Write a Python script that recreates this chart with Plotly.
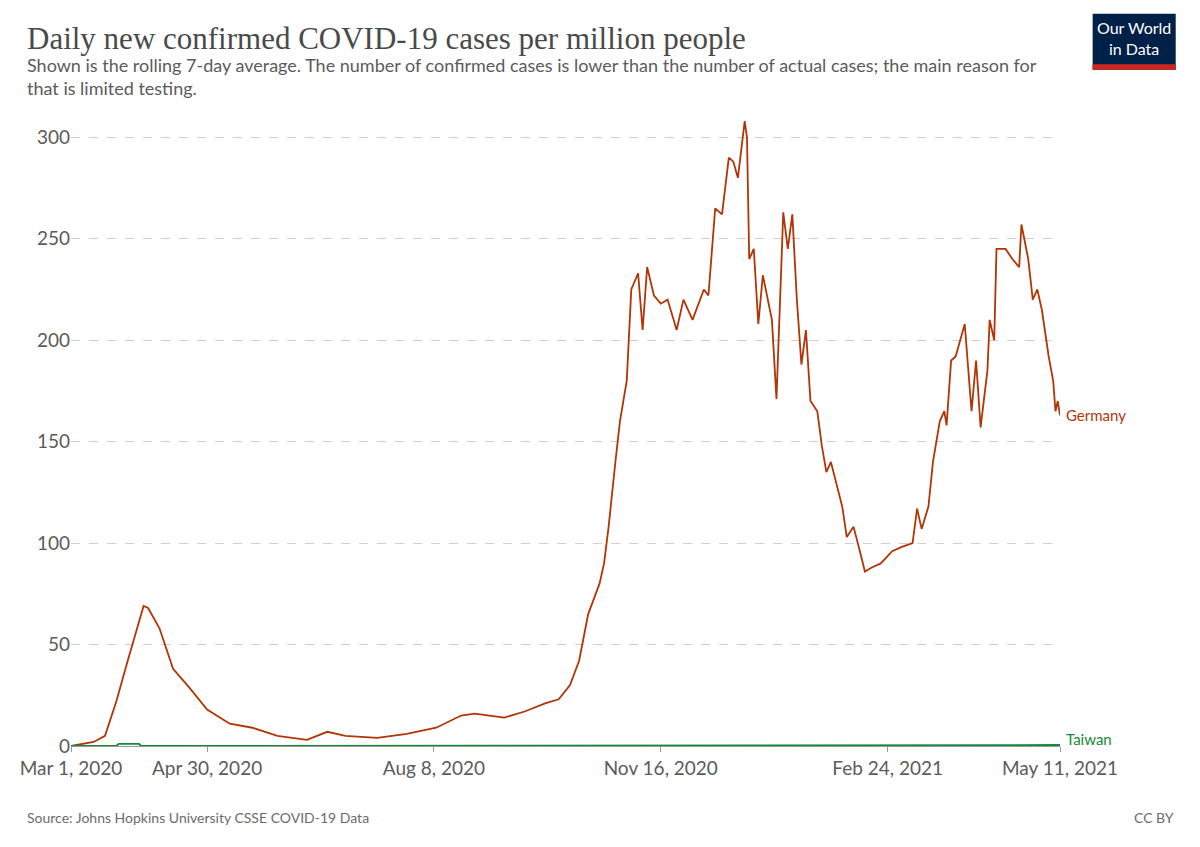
import pandas as pd
import plotly.graph_objects as go

start = pd.Timestamp("2020-03-01")

germany_day = [0, 10, 15, 20, 25, 30, 32, 34, 39, 45, 52, 60, 70, 80, 91, 104, 113, 121, 135, 148,
               161, 172, 178, 191, 200, 209, 215, 220, 224, 228, 233, 235, 237, 240, 242, 245, 246, 247,
               250, 252, 254, 257, 260, 263, 267, 270, 274, 279, 281, 284, 287, 290, 292, 294, 297, 298,
               299, 301, 303, 305, 309, 311, 314, 316, 318, 320, 322, 324, 326, 329, 331, 333, 335, 340,
               342, 345, 348, 350, 353, 357, 362, 366, 371, 373, 375, 378, 380, 383, 385, 386, 388, 390,
               394, 397, 399, 401, 404, 405, 407, 408, 412, 415, 418, 419, 422, 424, 426, 428, 431, 433,
               434, 435, 436]
germany_val = [0, 2, 5, 22, 42, 62, 69, 68, 58, 38, 29, 18, 11, 9, 5, 3, 7, 5, 4, 6,
               9, 15, 16, 14, 17, 21, 23, 30, 42, 65, 80, 90, 108, 140, 160, 180, 200, 225,
               233, 205, 236, 222, 218, 220, 205, 220, 210, 225, 222, 265, 262, 290, 288, 280, 308, 300,
               240, 245, 208, 232, 210, 171, 263, 245, 262, 220, 188, 205, 170, 165, 148, 135, 140, 118,
               103, 108, 95, 86, 88, 90, 96, 98, 100, 117, 107, 118, 140, 160, 165, 158, 190, 192,
               208, 165, 190, 157, 185, 210, 200, 245, 245, 240, 236, 257, 240, 220, 225, 215, 192, 180,
               165, 170, 163]

taiwan_day = [0, 20, 21, 30, 31, 436]
taiwan_val = [0, 0, 1, 1, 0, 0.5]

tick_labels = ["Mar 1, 2020", "Apr 30, 2020", "Aug 8, 2020", "Nov 16, 2020", "Feb 24, 2021", "May 11, 2021"]

g_x = [start + pd.Timedelta(days=d) for d in germany_day]
t_x = [start + pd.Timedelta(days=d) for d in taiwan_day]
tick_vals = [pd.Timestamp(s) for s in tick_labels]

red = "#B13507"
green = "#138A36"

fig = go.Figure()
fig.add_trace(go.Scatter(x=g_x, y=germany_val, mode="lines", line=dict(color=red, width=1.8)))
fig.add_trace(go.Scatter(x=t_x, y=taiwan_val, mode="lines", line=dict(color=green, width=1.8)))

fig.add_annotation(x=g_x[-1], y=germany_val[-1], text="Germany", showarrow=False, xanchor="left",
                   xshift=4, font=dict(color=red, size=15))
fig.add_annotation(x=t_x[-1], y=taiwan_val[-1], text="Taiwan", showarrow=False, xanchor="left",
                   xshift=4, yshift=6, font=dict(color=green, size=15))

fig.update_layout(
    width=1200, height=847, showlegend=False,
    plot_bgcolor="white", paper_bgcolor="white",
    font=dict(family="Lato", color="#5b5b5b"),
    margin=dict(l=54, r=148, t=109, b=109),
    xaxis=dict(range=[start, g_x[-1]], tickvals=tick_vals, ticktext=tick_labels, showgrid=False,
               showline=True, linecolor="#999", ticks="outside", tickcolor="#999",
               tickfont=dict(size=19, color="#5b5b5b")),
    yaxis=dict(range=[0, 310], tickvals=[0, 50, 100, 150, 200, 250, 300], showgrid=True,
               gridcolor="#cfcfcf", griddash="dash", zeroline=False,
               tickfont=dict(size=19, color="#5b5b5b")),
)

fig.add_annotation(xref="paper", yref="paper", x=-0.047, y=1.0, yanchor="bottom", xanchor="left",
                   yshift=59, showarrow=False, align="left",
                   text="Daily new confirmed COVID-19 cases per million people",
                   font=dict(family="Liberation Serif", size=31, color="#4a4a4a"))
fig.add_annotation(xref="paper", yref="paper", x=-0.047, y=1.0, yanchor="bottom", xanchor="left",
                   yshift=16, showarrow=False, align="left",
                   text="Shown is the rolling 7-day average. The number of confirmed cases is lower than the number of actual cases; the main reason for<br>that is limited testing.",
                   font=dict(size=18, color="#5b5b5b"))
fig.add_annotation(xref="paper", yref="paper", x=-0.047, y=0, yanchor="top", xanchor="left",
                   yshift=-61, showarrow=False, text="Source: Johns Hopkins University CSSE COVID-19 Data",
                   font=dict(size=14, color="#6b6b6b"))
fig.add_annotation(xref="paper", yref="paper", x=1.117, y=0, yanchor="top", xanchor="right",
                   yshift=-61, showarrow=False, text="CC BY", font=dict(size=14, color="#6b6b6b"))

# logo
fig.add_shape(type="rect", xref="paper", yref="paper", x0=1.033, x1=1.117, y0=1.075, y1=1.164,
              fillcolor="#002147", line_width=0)
fig.add_shape(type="rect", xref="paper", yref="paper", x0=1.033, x1=1.117, y0=1.075, y1=1.084,
              fillcolor="#CE261E", line_width=0)
fig.add_annotation(xref="paper", yref="paper", x=1.075, y=1.126, xanchor="center", yanchor="middle",
                   showarrow=False, text="Our World<br>in Data", font=dict(size=16, color="white"))

fig.write_html("out.html")
